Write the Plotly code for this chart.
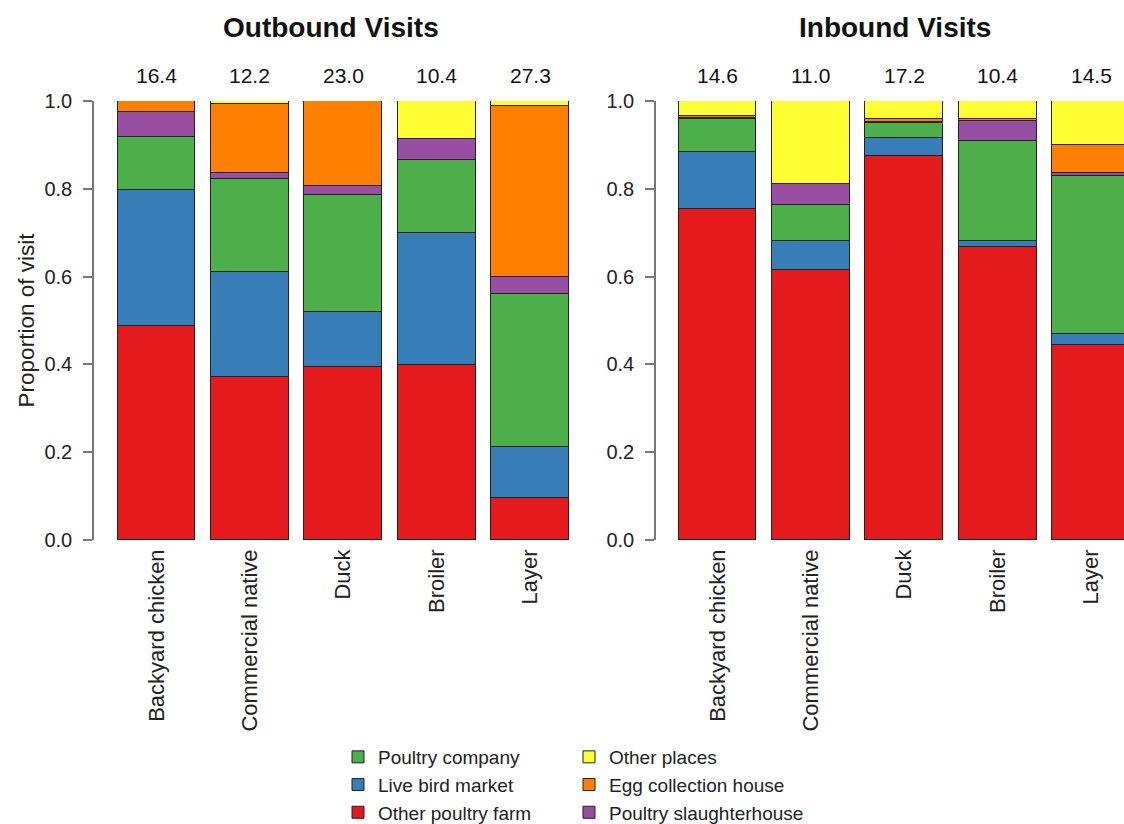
import plotly.graph_objects as go

categories = ["Backyard chicken", "Commercial native", "Duck", "Broiler", "Layer"]
series_names = ["Other poultry farm", "Live bird market", "Poultry company",
                "Poultry slaughterhouse", "Egg collection house", "Other places"]
series_colors = ["#E41A1C", "#377EB8", "#4DAF4A", "#984EA3", "#FF7F00", "#FFFF33"]

# proportions per series (bottom to top), one value per category
out_other_farm = [0.488, 0.371, 0.394, 0.398, 0.095]
out_live_market = [0.309, 0.239, 0.126, 0.301, 0.117]
out_company = [0.122, 0.213, 0.266, 0.166, 0.348]
out_slaughter = [0.055, 0.013, 0.020, 0.048, 0.038]
out_egg = [0.026, 0.157, 0.194, 0.000, 0.391]
out_other_places = [0.000, 0.007, 0.000, 0.087, 0.011]

in_other_farm = [0.755, 0.614, 0.875, 0.667, 0.445]
in_live_market = [0.129, 0.066, 0.041, 0.014, 0.025]
in_company = [0.074, 0.083, 0.033, 0.229, 0.360]
in_slaughter = [0.003, 0.049, 0.003, 0.044, 0.006]
in_egg = [0.004, 0.000, 0.006, 0.006, 0.064]
in_other_places = [0.035, 0.188, 0.042, 0.040, 0.100]

out_totals = ["16.4", "12.2", "23.0", "10.4", "27.3"]
in_totals = ["14.6", "11.0", "17.2", "10.4", "14.5"]

y_ticks = [0.0, 0.2, 0.4, 0.6, 0.8, 1.0]

outbound = [out_other_farm, out_live_market, out_company, out_slaughter, out_egg, out_other_places]
inbound = [in_other_farm, in_live_market, in_company, in_slaughter, in_egg, in_other_places]

W, H = 1124, 824
FONT = "Liberation Sans, Arial, sans-serif"
xpos = list(range(len(categories)))

fig = go.Figure()
for i, name in enumerate(series_names):
    leg = "legend" if i < 3 else "legend2"
    fig.add_trace(go.Bar(x=xpos, y=outbound[i], name=name, width=0.833,
                         marker=dict(color=series_colors[i], line=dict(color="#222", width=1)),
                         xaxis="x", yaxis="y", legend=leg, showlegend=True))
    fig.add_trace(go.Bar(x=xpos, y=inbound[i], name=name, width=0.833,
                         marker=dict(color=series_colors[i], line=dict(color="#222", width=1)),
                         xaxis="x2", yaxis="y2", showlegend=False))

pitch = 93.4
def xr(left_px, right_px, c0):
    return [(left_px - c0) / pitch, (right_px - c0) / pitch]

def py(px):
    return (H - px) / H

ydom = [py(540), py(101)]
common_y = dict(range=[0, 1], tickvals=y_ticks, ticktext=[f"{v:.1f}" for v in y_ticks],
                showline=True, linecolor="#777", linewidth=1.5, ticks="outside", ticklen=9,
                tickcolor="#777", tickwidth=1.5, showgrid=False, zeroline=False,
                tickfont=dict(size=20, color="#222", family=FONT), ticklabelstandoff=7,
                domain=ydom, automargin=False)
common_x = dict(tickvals=xpos, ticktext=categories, tickangle=-90, showline=False,
                showgrid=False, zeroline=False, ticks="", automargin=False,
                tickfont=dict(size=22, color="#222", family=FONT), ticklabelstandoff=4)

fig.update_layout(
    width=W, height=H, margin=dict(l=0, r=0, t=0, b=0, autoexpand=False),
    paper_bgcolor="white", plot_bgcolor="white",
    barmode="stack", bargap=0,
    font=dict(family=FONT, color="#222"),
    xaxis=dict(domain=[94 / W, 586 / W], range=xr(94, 586, 156.5), anchor="y", **common_x),
    yaxis=dict(anchor="x", title=dict(text="Proportion of visit", standoff=4,
                                      font=dict(size=22.5, color="#222", family=FONT)),
               **common_y),
    xaxis2=dict(domain=[656 / W, 1.0], range=xr(656, 1124, 717.5), anchor="y2", **common_x),
    yaxis2=dict(anchor="x2", **common_y),
    legend=dict(x=338 / W, y=py(738), xanchor="left", yanchor="top",
                traceorder="reversed", font=dict(size=19, color="#222", family=FONT),
                bgcolor="rgba(0,0,0,0)", itemclick=False),
    legend2=dict(x=569 / W, y=py(738), xanchor="left", yanchor="top",
                 traceorder="reversed", font=dict(size=19, color="#222", family=FONT),
                 bgcolor="rgba(0,0,0,0)", itemclick=False),
)

ann = []
ann.append(dict(text="<b>Outbound Visits</b>", x=331 / W, y=py(28), xref="paper", yref="paper",
                xanchor="center", yanchor="middle", showarrow=False,
                font=dict(size=28, color="#111", family=FONT)))
ann.append(dict(text="<b>Inbound Visits</b>", x=895 / W, y=py(28), xref="paper", yref="paper",
                xanchor="center", yanchor="middle", showarrow=False,
                font=dict(size=28, color="#111", family=FONT)))
for xv, t in zip(xpos, out_totals):
    ann.append(dict(text=t, x=xv, y=py(76), xref="x", yref="paper", showarrow=False,
                    xanchor="center", yanchor="middle",
                    font=dict(size=21, color="#111", family=FONT)))
for xv, t in zip(xpos, in_totals):
    ann.append(dict(text=t, x=xv, y=py(76), xref="x2", yref="paper", showarrow=False,
                    xanchor="center", yanchor="middle",
                    font=dict(size=21, color="#111", family=FONT)))
fig.update_layout(annotations=ann)

fig.write_html("out.html")
